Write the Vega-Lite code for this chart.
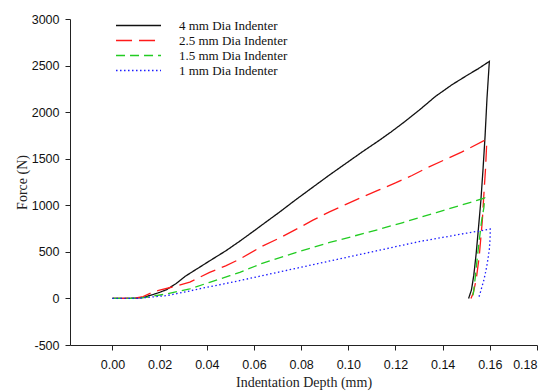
{
  "$schema": "https://vega.github.io/schema/vega-lite/v6.json",
  "width": 467,
  "height": 326,
  "autosize": "none",
  "padding": {"left": 70, "top": 19, "right": 18, "bottom": 47},
  "background": "white",
  "config": {
    "view": {"stroke": null},
    "axis": {
      "grid": false,
      "domainColor": "#222",
      "tickColor": "#222",
      "tickSize": 5,
      "labelFont": "Liberation Sans",
      "labelFontSize": 12.5,
      "labelColor": "#111",
      "titleFont": "Liberation Serif",
      "titleFontSize": 14,
      "titleFontWeight": "normal",
      "titleColor": "#222"
    }
  },
  "data": {
    "values": [
      {"s": "4 mm Dia Indenter", "i": 1, "d": 0.0, "f": 0},
      {"s": "4 mm Dia Indenter", "i": 2, "d": 0.005, "f": 0},
      {"s": "4 mm Dia Indenter", "i": 3, "d": 0.010, "f": 3},
      {"s": "4 mm Dia Indenter", "i": 4, "d": 0.013, "f": 10},
      {"s": "4 mm Dia Indenter", "i": 5, "d": 0.017, "f": 40},
      {"s": "4 mm Dia Indenter", "i": 6, "d": 0.020, "f": 65},
      {"s": "4 mm Dia Indenter", "i": 7, "d": 0.023, "f": 95},
      {"s": "4 mm Dia Indenter", "i": 8, "d": 0.027, "f": 160},
      {"s": "4 mm Dia Indenter", "i": 9, "d": 0.031, "f": 240},
      {"s": "4 mm Dia Indenter", "i": 10, "d": 0.036, "f": 320},
      {"s": "4 mm Dia Indenter", "i": 11, "d": 0.041, "f": 400},
      {"s": "4 mm Dia Indenter", "i": 12, "d": 0.048, "f": 510},
      {"s": "4 mm Dia Indenter", "i": 13, "d": 0.054, "f": 615},
      {"s": "4 mm Dia Indenter", "i": 14, "d": 0.060, "f": 725},
      {"s": "4 mm Dia Indenter", "i": 15, "d": 0.064, "f": 800},
      {"s": "4 mm Dia Indenter", "i": 16, "d": 0.071, "f": 930},
      {"s": "4 mm Dia Indenter", "i": 17, "d": 0.078, "f": 1065},
      {"s": "4 mm Dia Indenter", "i": 18, "d": 0.085, "f": 1195},
      {"s": "4 mm Dia Indenter", "i": 19, "d": 0.092, "f": 1325},
      {"s": "4 mm Dia Indenter", "i": 20, "d": 0.099, "f": 1450},
      {"s": "4 mm Dia Indenter", "i": 21, "d": 0.106, "f": 1575},
      {"s": "4 mm Dia Indenter", "i": 22, "d": 0.113, "f": 1695},
      {"s": "4 mm Dia Indenter", "i": 23, "d": 0.118, "f": 1785},
      {"s": "4 mm Dia Indenter", "i": 24, "d": 0.123, "f": 1880},
      {"s": "4 mm Dia Indenter", "i": 25, "d": 0.130, "f": 2020},
      {"s": "4 mm Dia Indenter", "i": 26, "d": 0.137, "f": 2170},
      {"s": "4 mm Dia Indenter", "i": 27, "d": 0.144, "f": 2295},
      {"s": "4 mm Dia Indenter", "i": 28, "d": 0.151, "f": 2405},
      {"s": "4 mm Dia Indenter", "i": 29, "d": 0.155, "f": 2465},
      {"s": "4 mm Dia Indenter", "i": 30, "d": 0.1598, "f": 2545},
      {"s": "4 mm Dia Indenter", "i": 31, "d": 0.1588, "f": 2150},
      {"s": "4 mm Dia Indenter", "i": 32, "d": 0.1580, "f": 1750},
      {"s": "4 mm Dia Indenter", "i": 33, "d": 0.1571, "f": 1380},
      {"s": "4 mm Dia Indenter", "i": 34, "d": 0.1562, "f": 1050},
      {"s": "4 mm Dia Indenter", "i": 35, "d": 0.1552, "f": 760},
      {"s": "4 mm Dia Indenter", "i": 36, "d": 0.1542, "f": 480},
      {"s": "4 mm Dia Indenter", "i": 37, "d": 0.1532, "f": 250},
      {"s": "4 mm Dia Indenter", "i": 38, "d": 0.1522, "f": 90},
      {"s": "4 mm Dia Indenter", "i": 39, "d": 0.1510, "f": 0},

      {"s": "2.5 mm Dia Indenter", "i": 1, "d": 0.0, "f": 0},
      {"s": "2.5 mm Dia Indenter", "i": 2, "d": 0.005, "f": 0},
      {"s": "2.5 mm Dia Indenter", "i": 3, "d": 0.010, "f": 5},
      {"s": "2.5 mm Dia Indenter", "i": 4, "d": 0.013, "f": 20},
      {"s": "2.5 mm Dia Indenter", "i": 5, "d": 0.017, "f": 66},
      {"s": "2.5 mm Dia Indenter", "i": 6, "d": 0.020, "f": 90},
      {"s": "2.5 mm Dia Indenter", "i": 7, "d": 0.025, "f": 120},
      {"s": "2.5 mm Dia Indenter", "i": 8, "d": 0.0328, "f": 175},
      {"s": "2.5 mm Dia Indenter", "i": 9, "d": 0.0412, "f": 280},
      {"s": "2.5 mm Dia Indenter", "i": 10, "d": 0.048, "f": 350},
      {"s": "2.5 mm Dia Indenter", "i": 11, "d": 0.054, "f": 423},
      {"s": "2.5 mm Dia Indenter", "i": 12, "d": 0.0638, "f": 565},
      {"s": "2.5 mm Dia Indenter", "i": 13, "d": 0.071, "f": 650},
      {"s": "2.5 mm Dia Indenter", "i": 14, "d": 0.078, "f": 744},
      {"s": "2.5 mm Dia Indenter", "i": 15, "d": 0.085, "f": 840},
      {"s": "2.5 mm Dia Indenter", "i": 16, "d": 0.092, "f": 930},
      {"s": "2.5 mm Dia Indenter", "i": 17, "d": 0.099, "f": 1010},
      {"s": "2.5 mm Dia Indenter", "i": 18, "d": 0.106, "f": 1090},
      {"s": "2.5 mm Dia Indenter", "i": 19, "d": 0.113, "f": 1165},
      {"s": "2.5 mm Dia Indenter", "i": 20, "d": 0.120, "f": 1240},
      {"s": "2.5 mm Dia Indenter", "i": 21, "d": 0.127, "f": 1320},
      {"s": "2.5 mm Dia Indenter", "i": 22, "d": 0.134, "f": 1410},
      {"s": "2.5 mm Dia Indenter", "i": 23, "d": 0.141, "f": 1490},
      {"s": "2.5 mm Dia Indenter", "i": 24, "d": 0.148, "f": 1570},
      {"s": "2.5 mm Dia Indenter", "i": 25, "d": 0.1580, "f": 1700},
      {"s": "2.5 mm Dia Indenter", "i": 26, "d": 0.1587, "f": 1680},
      {"s": "2.5 mm Dia Indenter", "i": 27, "d": 0.1582, "f": 1400},
      {"s": "2.5 mm Dia Indenter", "i": 28, "d": 0.1576, "f": 1170},
      {"s": "2.5 mm Dia Indenter", "i": 29, "d": 0.1568, "f": 830},
      {"s": "2.5 mm Dia Indenter", "i": 30, "d": 0.1555, "f": 450},
      {"s": "2.5 mm Dia Indenter", "i": 31, "d": 0.1542, "f": 200},
      {"s": "2.5 mm Dia Indenter", "i": 32, "d": 0.1530, "f": 60},
      {"s": "2.5 mm Dia Indenter", "i": 33, "d": 0.1520, "f": 0},

      {"s": "1.5 mm Dia Indenter", "i": 1, "d": 0.0, "f": 0},
      {"s": "1.5 mm Dia Indenter", "i": 2, "d": 0.010, "f": 0},
      {"s": "1.5 mm Dia Indenter", "i": 3, "d": 0.015, "f": 15},
      {"s": "1.5 mm Dia Indenter", "i": 4, "d": 0.0229, "f": 48},
      {"s": "1.5 mm Dia Indenter", "i": 5, "d": 0.0328, "f": 102},
      {"s": "1.5 mm Dia Indenter", "i": 6, "d": 0.0412, "f": 173},
      {"s": "1.5 mm Dia Indenter", "i": 7, "d": 0.0498, "f": 244},
      {"s": "1.5 mm Dia Indenter", "i": 8, "d": 0.054, "f": 280},
      {"s": "1.5 mm Dia Indenter", "i": 9, "d": 0.0638, "f": 380},
      {"s": "1.5 mm Dia Indenter", "i": 10, "d": 0.078, "f": 494},
      {"s": "1.5 mm Dia Indenter", "i": 11, "d": 0.0921, "f": 601},
      {"s": "1.5 mm Dia Indenter", "i": 12, "d": 0.1062, "f": 695},
      {"s": "1.5 mm Dia Indenter", "i": 13, "d": 0.1133, "f": 744},
      {"s": "1.5 mm Dia Indenter", "i": 14, "d": 0.1232, "f": 815},
      {"s": "1.5 mm Dia Indenter", "i": 15, "d": 0.1373, "f": 922},
      {"s": "1.5 mm Dia Indenter", "i": 16, "d": 0.1515, "f": 1029},
      {"s": "1.5 mm Dia Indenter", "i": 17, "d": 0.1578, "f": 1078},
      {"s": "1.5 mm Dia Indenter", "i": 18, "d": 0.1575, "f": 980},
      {"s": "1.5 mm Dia Indenter", "i": 19, "d": 0.1565, "f": 830},
      {"s": "1.5 mm Dia Indenter", "i": 20, "d": 0.1555, "f": 620},
      {"s": "1.5 mm Dia Indenter", "i": 21, "d": 0.1546, "f": 420},
      {"s": "1.5 mm Dia Indenter", "i": 22, "d": 0.1538, "f": 220},
      {"s": "1.5 mm Dia Indenter", "i": 23, "d": 0.1531, "f": 70},
      {"s": "1.5 mm Dia Indenter", "i": 24, "d": 0.1526, "f": 0},

      {"s": "1 mm Dia Indenter", "i": 1, "d": 0.0, "f": 0},
      {"s": "1 mm Dia Indenter", "i": 2, "d": 0.010, "f": 0},
      {"s": "1 mm Dia Indenter", "i": 3, "d": 0.0229, "f": 30},
      {"s": "1 mm Dia Indenter", "i": 4, "d": 0.030, "f": 65},
      {"s": "1 mm Dia Indenter", "i": 5, "d": 0.040, "f": 120},
      {"s": "1 mm Dia Indenter", "i": 6, "d": 0.050, "f": 170},
      {"s": "1 mm Dia Indenter", "i": 7, "d": 0.060, "f": 225},
      {"s": "1 mm Dia Indenter", "i": 8, "d": 0.070, "f": 280},
      {"s": "1 mm Dia Indenter", "i": 9, "d": 0.080, "f": 335},
      {"s": "1 mm Dia Indenter", "i": 10, "d": 0.090, "f": 390},
      {"s": "1 mm Dia Indenter", "i": 11, "d": 0.100, "f": 445},
      {"s": "1 mm Dia Indenter", "i": 12, "d": 0.110, "f": 500},
      {"s": "1 mm Dia Indenter", "i": 13, "d": 0.120, "f": 555},
      {"s": "1 mm Dia Indenter", "i": 14, "d": 0.130, "f": 610},
      {"s": "1 mm Dia Indenter", "i": 15, "d": 0.140, "f": 655},
      {"s": "1 mm Dia Indenter", "i": 16, "d": 0.150, "f": 700},
      {"s": "1 mm Dia Indenter", "i": 17, "d": 0.1602, "f": 744},
      {"s": "1 mm Dia Indenter", "i": 18, "d": 0.1601, "f": 640},
      {"s": "1 mm Dia Indenter", "i": 19, "d": 0.1598, "f": 530},
      {"s": "1 mm Dia Indenter", "i": 20, "d": 0.1592, "f": 420},
      {"s": "1 mm Dia Indenter", "i": 21, "d": 0.1585, "f": 316},
      {"s": "1 mm Dia Indenter", "i": 22, "d": 0.1575, "f": 200},
      {"s": "1 mm Dia Indenter", "i": 23, "d": 0.1564, "f": 102},
      {"s": "1 mm Dia Indenter", "i": 24, "d": 0.1556, "f": 30},
      {"s": "1 mm Dia Indenter", "i": 25, "d": 0.1550, "f": 0}
    ]
  },
  "mark": {"type": "line", "strokeWidth": 1.3, "strokeCap": "butt", "clip": true},
  "encoding": {
    "x": {
      "field": "d",
      "type": "quantitative",
      "scale": {"domain": [-0.018, 0.18], "nice": false, "zero": false},
      "axis": {
        "title": "Indentation Depth (mm)",
        "values": [0, 0.02, 0.04, 0.06, 0.08, 0.1, 0.12, 0.14, 0.16, 0.18],
        "format": ".2f",
        "labelPadding": 8,
        "titlePadding": 5
      }
    },
    "y": {
      "field": "f",
      "type": "quantitative",
      "scale": {"domain": [-500, 3000], "nice": false},
      "axis": {
        "title": "Force (N)",
        "values": [-500, 0, 500, 1000, 1500, 2000, 2500, 3000],
        "labelExpr": "'' + datum.value",
        "labelPadding": 6,
        "titlePadding": 2
      }
    },
    "order": {"field": "i", "type": "quantitative"},
    "color": {
      "field": "s",
      "type": "nominal",
      "scale": {
        "domain": ["4 mm Dia Indenter", "2.5 mm Dia Indenter", "1.5 mm Dia Indenter", "1 mm Dia Indenter"],
        "range": ["#111111", "#ff1a1a", "#22cc22", "#1a1aff"]
      },
      "legend": {
        "title": null,
        "orient": "none",
        "legendX": 77,
        "legendY": -1,
        "padding": 0,
        "symbolType": "M-5.92,0H1",
        "symbolSize": 169,
        "symbolStrokeWidth": 1.3,
        "labelFont": "Liberation Serif",
        "labelFontSize": 13,
        "labelColor": "#111",
        "labelOffset": 17,
        "rowPadding": 0
      }
    },
    "strokeDash": {
      "field": "s",
      "type": "nominal",
      "scale": {
        "domain": ["4 mm Dia Indenter", "2.5 mm Dia Indenter", "1.5 mm Dia Indenter", "1 mm Dia Indenter"],
        "range": [[1, 0], [16, 7], [9, 5], [1.5, 2.5]]
      },
      "legend": null
    }
  }
}
